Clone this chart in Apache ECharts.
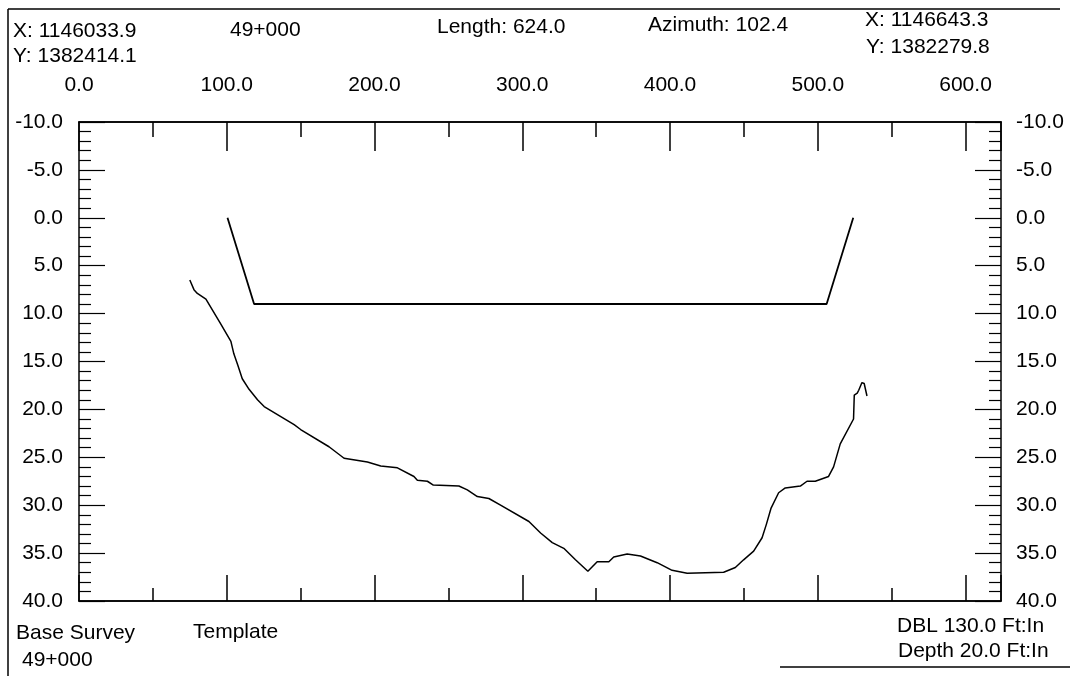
<!DOCTYPE html>
<html>
<head>
<meta charset="utf-8">
<script src="https://cdn.jsdelivr.net/npm/echarts@6/dist/echarts.min.js"></script>
<style>
html,body{margin:0;padding:0;background:#fff;}
#c{width:1070px;height:676px;}
</style>
</head>
<body>
<div id="c"></div>
<script>
// Station (ft along section) and depth (ft)
const surveyStation = [75.0, 77.8, 80.1, 85.9, 96.0, 102.8, 104.8, 107.5, 110.5, 115.1, 120.8, 125.3, 145.6, 150.0, 169.2, 179.4, 195.2, 204.2, 215.5, 226.7, 229.0, 235.8, 239.8, 257.1, 262.8, 269.6, 277.4, 285.3, 304.5, 312.4, 320.3, 328.1, 336.0, 344.4, 350.7, 358.6, 361.9, 371.0, 380.0, 391.3, 401.4, 411.6, 436.3, 444.2, 449.8, 456.6, 462.3, 465.2, 468.4, 473.5, 478.0, 488.2, 492.7, 498.3, 507.3, 510.7, 515.2, 524.2, 524.7, 526.7, 527.7, 529.9, 531.4, 533.3];
const surveyDepth = [6.5, 7.5, 7.9, 8.5, 11.1, 12.9, 14.2, 15.4, 16.8, 17.9, 19.0, 19.7, 21.6, 22.1, 23.9, 25.1, 25.5, 25.9, 26.1, 27.0, 27.4, 27.5, 27.9, 28.0, 28.4, 29.1, 29.3, 30.0, 31.7, 32.9, 33.9, 34.5, 35.7, 36.9, 35.9, 35.9, 35.4, 35.1, 35.3, 36.0, 36.8, 37.1, 37.0, 36.5, 35.7, 34.8, 33.4, 32.0, 30.3, 28.7, 28.2, 28.0, 27.5, 27.5, 27.0, 26.0, 23.6, 21.0, 18.5, 18.3, 18.0, 17.2, 17.3, 18.6];
const templateStation = [100.5, 118.5, 506.0, 524.0];
const templateDepth = [0.0, 9.0, 9.0, 0.0];

const stationMin = 0, stationMax = 624;
const depthMin = -10, depthMax = 40;

const headerTexts = [
  ['X: 1146033.9', 13, 31], ['49+000', 230, 30], ['Length: 624.0', 437, 27],
  ['Azimuth: 102.4', 648, 25], ['X: 1146643.3', 865, 20],
  ['Y: 1382414.1', 13, 56], ['Y: 1382279.8', 866, 47]
];
const footerTexts = [
  ['Base Survey', 16, 633], ['49+000', 22, 660], ['Template', 193, 632],
  ['DBL 130.0 Ft:In', 897, 626], ['Depth 20.0 Ft:In', 898, 651]
];

const FONT = '"Liberation Sans", Arial, sans-serif';
const pair = (xs, ys) => xs.map((x, i) => [x, ys[i]]);

function xAx(pos, interval, len, showLabel) {
  return {
    type: 'value', position: pos, min: stationMin, max: stationMax, interval: interval,
    axisLine: { show: true, onZero: false, lineStyle: { color: '#000', width: 1.5 } },
    axisTick: { show: true, inside: true, length: len, lineStyle: { color: '#000', width: 1.5 } },
    splitLine: { show: false },
    axisLabel: {
      show: showLabel, margin: 26, color: '#000', fontSize: 21, fontFamily: FONT,
      formatter: v => (v % 100 === 0 ? v.toFixed(1) : '')
    }
  };
}
function yAx(pos, margin) {
  return {
    type: 'value', position: pos, inverse: true, min: depthMin, max: depthMax, interval: 5,
    axisLine: { show: true, onZero: false, lineStyle: { color: '#000', width: 1.5 } },
    axisTick: { show: true, inside: true, length: 26, lineStyle: { color: '#000', width: 1.2 } },
    minorTick: { show: true, splitNumber: 5, length: 12, lineStyle: { color: '#000', width: 1.2 } },
    splitLine: { show: false },
    axisLabel: { margin: margin, color: '#000', fontSize: 21, fontFamily: FONT, formatter: v => v.toFixed(1) }
  };
}

const textEls = headerTexts.concat(footerTexts).map(t => ({
  type: 'text', x: t[1], y: t[2],
  style: { text: t[0], font: '21px ' + FONT, fill: '#000', align: 'left', verticalAlign: 'middle', textAlign: 'left', textVerticalAlign: 'middle' }
}));
const frameEls = [
  { type: 'line', shape: { x1: 8, y1: 9, x2: 8, y2: 676 }, style: { stroke: '#000', lineWidth: 1.5 } },
  { type: 'line', shape: { x1: 8, y1: 9, x2: 1060, y2: 9 }, style: { stroke: '#000', lineWidth: 1.5 } },
  { type: 'line', shape: { x1: 780, y1: 667, x2: 1070, y2: 667 }, style: { stroke: '#000', lineWidth: 1.5 } }
];

const chart = echarts.init(document.getElementById('c'), null, { renderer: 'canvas' });
chart.setOption({
  animation: false,
  backgroundColor: '#fff',
  grid: { left: 79, right: 69, top: 122, bottom: 75, containLabel: false },
  xAxis: [xAx('top', 100, 29, true), xAx('bottom', 100, 26, false), xAx('top', 50, 15, false), xAx('bottom', 50, 13, false)],
  yAxis: [yAx('left', 16), yAx('right', 15)],
  graphic: textEls.concat(frameEls),
  series: [
    { type: 'line', name: 'Base Survey', xAxisIndex: 0, yAxisIndex: 0, data: pair(surveyStation, surveyDepth),
      showSymbol: false, symbol: 'none', lineStyle: { color: '#000', width: 1.5 } },
    { type: 'line', name: 'Template', xAxisIndex: 0, yAxisIndex: 0, data: pair(templateStation, templateDepth),
      showSymbol: false, symbol: 'none', lineStyle: { color: '#000', width: 1.8 } }
  ]
});
</script>
</body>
</html>
